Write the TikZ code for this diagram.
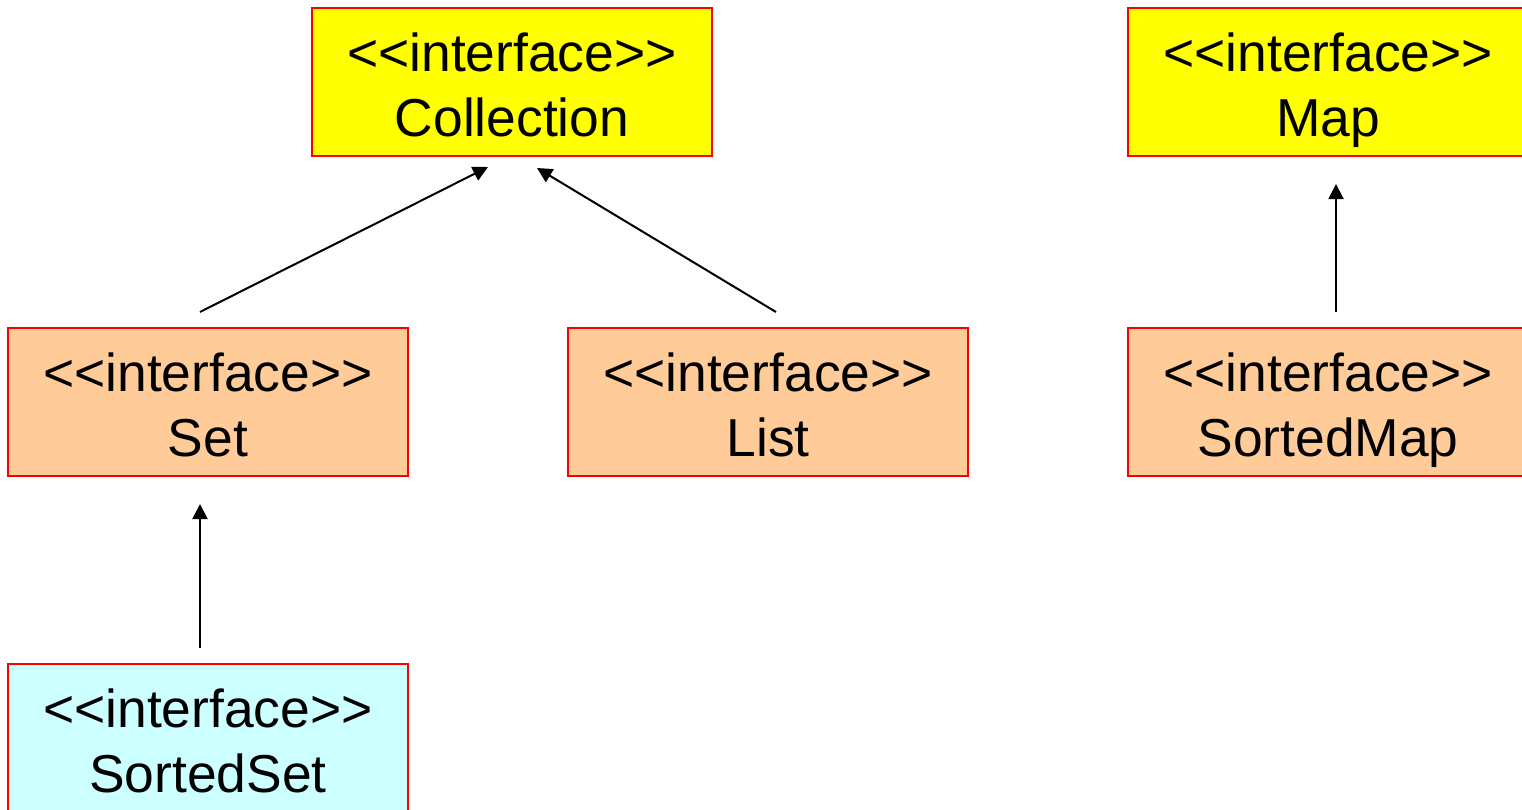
\documentclass[tikz,border=0pt]{standalone}
\usepackage{fontspec}
\setmainfont{Liberation Sans}
\usetikzlibrary{arrows.meta}
\definecolor{ifyellow}{HTML}{FFFF00}
\definecolor{iforange}{HTML}{FFCC99}
\definecolor{ifcyan}{HTML}{CCFFFF}
\definecolor{ifred}{HTML}{FF0000}
\tikzset{
  ifbox/.style={draw=ifred, line width=2pt, minimum width=400pt, minimum height=148pt,
    inner sep=0pt, outer sep=0pt},
  lbl/.style={font=\fontsize{53.4}{65}\selectfont, anchor=base, inner sep=0pt},
  inherit/.style={line width=2pt, -{Triangle[length=15pt,width=15pt]}}
}
% two-line UML interface box: #1 name, #2 centre, #3 fill, #4 class name
\newcommand{\ifacebox}[4]{%
  \node[ifbox, fill=#3] (#1) at #2 {};
  \node[lbl] (#1-st) at ([yshift=11pt]#1.center) {{<}{<}interface{>}{>}};
  \node[lbl] (#1-nm) at ([yshift=-54pt]#1.center) {#4};
}
\begin{document}
\begin{tikzpicture}[x=1pt, y=-1pt]
  \useasboundingbox (0,0) rectangle (1522,809);
  \clip (0,0) rectangle (1522,809);

  \ifacebox{coll}{(512,82)}{ifyellow}{Collection}
  \ifacebox{map}{(1328,82)}{ifyellow}{Map}
  \ifacebox{set}{(208,402)}{iforange}{Set}
  \ifacebox{list}{(768,402)}{iforange}{List}
  \ifacebox{smap}{(1328,402)}{iforange}{SortedMap}
  \ifacebox{sset}{(208,738)}{ifcyan}{SortedSet}

  % free ends of the generalisation arrows
  \coordinate (setUp)   at (200,312);
  \coordinate (collInL) at (488,167);
  \coordinate (listUp)  at (776,312);
  \coordinate (collInR) at (537,168);
  \coordinate (smapUp)  at (1336,312);
  \coordinate (mapIn)   at (1336,184);
  \coordinate (ssetUp)  at (200,648);
  \coordinate (setIn)   at (200,504);

  \draw[inherit] (setUp)  -- (collInL);
  \draw[inherit] (listUp) -- (collInR);
  \draw[inherit] (smapUp) -- (mapIn);
  \draw[inherit] (ssetUp) -- (setIn);
\end{tikzpicture}
\end{document}
